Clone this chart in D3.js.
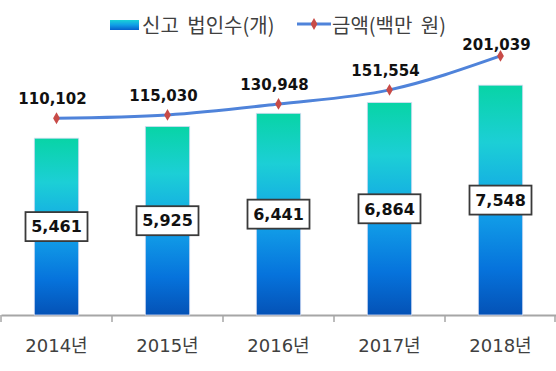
<!DOCTYPE html>
<html>
<head>
<meta charset="utf-8">
<script src="https://cdn.jsdelivr.net/npm/d3@7"></script>
<style>
  html, body { margin: 0; padding: 0; background: #fff; }
  svg { display: block; }
</style>
</head>
<body>
<div id="chart"></div>
<script>
  const years = ['2014년', '2015년', '2016년', '2017년', '2018년'];
  const filings = [5461, 5925, 6441, 6864, 7548];
  const amounts = [110102, 115030, 130948, 151554, 201039];
  const barLegend = '신고 법인수(개)';
  const lineLegend = '금액(백만 원)';

  const width = 556, height = 371;
  const fmt = d3.format(',');

  const svg = d3.select('#chart').append('svg')
    .attr('width', width)
    .attr('height', height);

  // gradient for the bars
  const defs = svg.append('defs');
  const grad = defs.append('linearGradient')
    .attr('id', 'barGrad')
    .attr('x1', 0).attr('y1', 0).attr('x2', 0).attr('y2', 1);
  [['0%', '#08d4a6'], ['25%', '#1ccfd6'], ['55%', '#12a0e8'], ['80%', '#0673dc'], ['100%', '#0452b6']]
    .forEach(function(s) { grad.append('stop').attr('offset', s[0]).attr('stop-color', s[1]); });

  const legGrad = defs.append('linearGradient')
    .attr('id', 'legGrad')
    .attr('x1', 0).attr('y1', 0).attr('x2', 0).attr('y2', 1);
  [['0%', '#1ad2d8'], ['50%', '#109ee6'], ['100%', '#0660cc']]
    .forEach(function(s) { legGrad.append('stop').attr('offset', s[0]).attr('stop-color', s[1]); });

  // scales
  const xOuter = d3.scaleBand().domain(years).range([1, 556]).padding(0);
  const x = d3.scaleBand().domain(years).range([1, 556]).paddingInner(0.6).paddingOuter(0.3);
  const yBar = d3.scaleLinear().domain([-1500, 7500]).range([315, 86.4]);
  const yLine = d3.scaleLinear().domain([0, 250000]).range([193.7, 22.4]);
  const baseY = 315;

  // axis
  const axis = svg.append('g')
    .attr('transform', 'translate(0,' + baseY + ')')
    .call(d3.axisBottom(xOuter).tickSize(0).tickPadding(24));
  axis.select('.domain').attr('stroke', '#a6a6a6').attr('stroke-width', 2);
  axis.selectAll('.tick text')
    .attr('fill', '#404040')
    .style('font-family', '"DejaVu Sans", "Noto Sans CJK KR", sans-serif')
    .style('font-size', '18px');

  const bounds = years.map(function(c) { return xOuter(c); }).concat([xOuter(years[years.length - 1]) + xOuter.step()]);
  axis.selectAll('.bound')
    .data(bounds)
    .enter()
    .append('line')
      .attr('class', 'bound')
      .attr('x1', function(d) { return Math.min(d, 555); })
      .attr('x2', function(d) { return Math.min(d, 555); })
      .attr('y1', 0)
      .attr('y2', 7)
      .attr('stroke', '#a6a6a6')
      .attr('stroke-width', 1.5);

  // bars
  svg.selectAll('.bar')
    .data(filings)
    .enter()
    .append('rect')
      .attr('class', 'bar')
      .attr('x', function(d, i) { return x(years[i]); })
      .attr('y', function(d) { return yBar(d); })
      .attr('width', x.bandwidth())
      .attr('height', function(d) { return baseY - yBar(d); })
      .attr('fill', 'url(#barGrad)')
      .attr('stroke', '#d6dcf2')
      .attr('stroke-width', 0.8);

  // bar value boxes
  const boxW = 62, boxH = 29;
  const boxes = svg.selectAll('.vbox')
    .data(filings)
    .enter()
    .append('g')
      .attr('class', 'vbox')
      .attr('transform', function(d, i) {
        const cx = x(years[i]) + x.bandwidth() / 2;
        const cy = (yBar(d) + baseY) / 2;
        return 'translate(' + cx + ',' + cy + ')';
      });
  boxes.append('rect')
    .attr('x', -boxW / 2)
    .attr('y', -boxH / 2)
    .attr('width', boxW)
    .attr('height', boxH)
    .attr('fill', '#fff')
    .attr('stroke', '#3a3a3a')
    .attr('stroke-width', 1.8);
  boxes.append('text')
    .attr('text-anchor', 'middle')
    .attr('dy', '0.36em')
    .attr('fill', '#111')
    .style('font-family', '"DejaVu Sans", sans-serif')
    .style('font-weight', 'bold')
    .style('font-size', '16px')
    .text(function(d) { return fmt(d); });

  // line
  const cx = function(i) { return x(years[i]) + x.bandwidth() / 2; };
  const line = d3.line()
    .x(function(d, i) { return cx(i); })
    .y(function(d) { return yLine(d); })
    .curve(d3.curveMonotoneX);

  svg.append('path')
    .datum(amounts)
    .attr('d', line)
    .attr('fill', 'none')
    .attr('stroke', '#4f83da')
    .attr('stroke-width', 3)
    .attr('stroke-linecap', 'round');

  const diamond = d3.symbol().type(d3.symbolDiamond).size(40);
  svg.selectAll('.mk')
    .data(amounts)
    .enter()
    .append('path')
      .attr('class', 'mk')
      .attr('d', diamond)
      .attr('transform', function(d, i) { return 'translate(' + cx(i) + ',' + yLine(d) + ')'; })
      .attr('fill', '#c84b47');

  svg.selectAll('.lbl')
    .data(amounts)
    .enter()
    .append('text')
      .attr('class', 'lbl')
      .attr('x', function(d, i) { return cx(i) - 4; })
      .attr('y', function(d) { return Math.max(yLine(d) - 14, 50); })
      .attr('text-anchor', 'middle')
      .attr('fill', '#111')
      .style('font-family', '"DejaVu Sans", sans-serif')
      .style('font-weight', 'bold')
      .style('font-size', '15px')
      .text(function(d) { return fmt(d); });

  // legend
  const leg = svg.append('g');
  leg.append('rect')
    .attr('x', 110).attr('y', 20)
    .attr('width', 29).attr('height', 10)
    .attr('fill', 'url(#legGrad)');
  leg.append('text')
    .attr('x', 142).attr('y', 33)
    .attr('fill', '#404040')
    .style('font-family', '"Noto Sans CJK KR", sans-serif')
    .style('font-size', '20px')
    .style('word-spacing', '4px')
    .text(barLegend);
  leg.append('line')
    .attr('x1', 297).attr('x2', 331)
    .attr('y1', 24).attr('y2', 24)
    .attr('stroke', '#4f83da')
    .attr('stroke-width', 3);
  leg.append('path')
    .attr('d', diamond)
    .attr('transform', 'translate(314,24)')
    .attr('fill', '#c84b47');
  leg.append('text')
    .attr('x', 332).attr('y', 33)
    .attr('fill', '#404040')
    .style('font-family', '"Noto Sans CJK KR", sans-serif')
    .style('font-size', '20px')
    .style('word-spacing', '4px')
    .text(lineLegend);
</script>
</body>
</html>
